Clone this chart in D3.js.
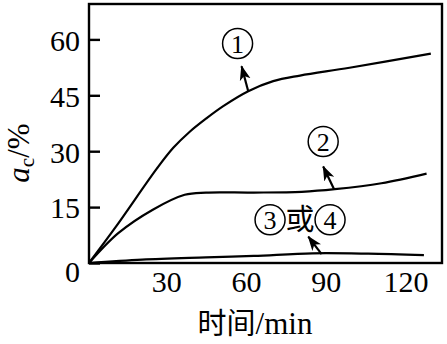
<!DOCTYPE html>
<html>
<head>
<meta charset="utf-8">
<script src="https://cdn.jsdelivr.net/npm/d3@7"></script>
<style>
  html, body { margin: 0; padding: 0; background: #fff; }
  svg { display: block; }
  .serif { font-family: "Liberation Serif", "DejaVu Serif", "Times New Roman", serif; }
  .cjk { font-family: "Noto Sans CJK SC", sans-serif; }
</style>
</head>
<body>
<svg id="chart" width="447" height="344"></svg>
<script>
// Conversion (%) vs time (min) for three conditions
const time1 = [0, 10, 25.5, 31.7, 38, 44.3, 50.5, 59.9, 69.3, 79.4, 98, 128.6];
const conv1 = [0, 9.6, 25.3, 30.9, 35.3, 38.9, 42.1, 46.1, 48.8, 50.3, 52.4, 56.2];

const time2 = [0, 11, 24, 36, 44, 62, 80, 92.5, 110, 127];
const conv2 = [0, 8, 14.3, 18.3, 18.9, 18.9, 19.1, 19.8, 21.4, 24.0];

const time3 = [0, 20, 44, 62, 84, 105, 126];
const conv3 = [0, 0.9, 1.5, 1.9, 2.6, 2.5, 2.1];

const xTicks = [30, 60, 90, 120];
const yTicks = [0, 15, 30, 45, 60];

// curve labels: text, label centre, arrow tail (on curve), arrow tip
const labelText = ["①", "②", "③或④"];
const labelAt = [[55.9, 58.9], [88.1, 32.6], [79.4, 11.6]];
const arrowFrom = [[59.9, 46.1], [92.2, 19.8], [87.5, 2.4]];
const arrowTo = [[57.4, 52.8], [88.1, 25.9], [82.5, 7.1]];

const svg = d3.select("#chart");
const plotL = 89, plotR = 442, plotT = 4, plotB = 263;

const x = d3.scaleLinear().domain([0, 132.8]).range([plotL, plotR]);
const y = d3.scaleLinear().domain([0, 69.5]).range([plotB, plotT]);

// curves
const line = d3.line()
  .x(d => x(d[0])).y(d => y(d[1]))
  .curve(d3.curveCatmullRom.alpha(0.5));
const series = [d3.zip(time1, conv1), d3.zip(time2, conv2), d3.zip(time3, conv3)];
svg.append("g").selectAll("path").data(series).join("path")
  .attr("d", line)
  .attr("fill", "none")
  .attr("stroke", "#000")
  .attr("stroke-width", 2.2)
  .attr("stroke-linejoin", "round");

// frame
svg.append("rect")
  .attr("x", plotL).attr("y", plotT)
  .attr("width", plotR - plotL).attr("height", plotB - plotT)
  .attr("fill", "none").attr("stroke", "#000").attr("stroke-width", 2.4);

// y axis: inward ticks, labels outside
const yAxis = d3.axisLeft(y).tickValues(yTicks).tickSize(-11).tickPadding(20);
const gy = svg.append("g").attr("transform", `translate(${plotL},0)`).call(yAxis);
gy.attr("font-family", null).attr("font-size", null);
gy.select(".domain").remove();
gy.selectAll(".tick line").attr("stroke", "#000").attr("stroke-width", 2.4);
gy.selectAll(".tick text")
  .attr("class", "serif")
  .attr("x", -9)
  .attr("dy", d => d === 0 ? "0.62em" : "0.36em")
  .attr("font-size", 30).attr("fill", "#000");

// x axis: labels only
const xAxis = d3.axisBottom(x).tickValues(xTicks).tickSize(0).tickPadding(8);
const gx = svg.append("g").attr("transform", `translate(0,${plotB})`).call(xAxis);
gx.attr("font-family", null).attr("font-size", null);
gx.select(".domain").remove();
gx.selectAll(".tick text")
  .attr("class", "serif")
  .attr("dx", "-0.08em")
  .attr("font-size", 30).attr("fill", "#000");

// axis titles
const xt = svg.append("text")
  .attr("x", 255).attr("y", 334)
  .attr("text-anchor", "middle")
  .attr("font-size", 31).attr("fill", "#000");
xt.append("tspan").attr("class", "cjk").attr("font-size", 29).text("时间");
xt.append("tspan").attr("class", "serif").text("/min");

const yt = svg.append("text")
  .attr("class", "serif")
  .attr("transform", "translate(29,153) rotate(-90)")
  .attr("text-anchor", "middle")
  .attr("font-size", 31).attr("fill", "#000");
yt.append("tspan").attr("font-style", "italic").text("a");
yt.append("tspan").attr("font-size", 21).attr("dy", 5).text("c");
yt.append("tspan").attr("dy", -5).text("/%");

// arrow head marker (notched)
const defs = svg.append("defs");
defs.append("marker")
  .attr("id", "head")
  .attr("viewBox", "0 0 15 12")
  .attr("refX", 14).attr("refY", 6)
  .attr("markerWidth", 15).attr("markerHeight", 12)
  .attr("markerUnits", "userSpaceOnUse")
  .attr("orient", "auto")
  .append("path")
  .attr("d", "M0,0.5 L15,6 L0,11.5 L4,6 Z")
  .attr("fill", "#000");

svg.append("g").selectAll("line").data(d3.range(arrowFrom.length)).join("line")
  .attr("x1", i => x(arrowFrom[i][0])).attr("y1", i => y(arrowFrom[i][1]))
  .attr("x2", i => x(arrowTo[i][0])).attr("y2", i => y(arrowTo[i][1]))
  .attr("stroke", "#000").attr("stroke-width", 2.2)
  .attr("marker-end", "url(#head)");

// curve labels: circled numbers drawn as a ring with a serif digit inside
const cell = 30;
labelText.forEach((txt, i) => {
  const chars = Array.from(txt);
  const cx0 = x(labelAt[i][0]) - (chars.length - 1) * cell / 2;
  const cy = y(labelAt[i][1]);
  const g = svg.append("g");
  chars.forEach((ch, k) => {
    const cx = cx0 + k * cell;
    const code = ch.codePointAt(0);
    if (code >= 0x2460 && code <= 0x2473) {
      g.append("circle")
        .attr("cx", cx).attr("cy", cy).attr("r", 15)
        .attr("fill", "none").attr("stroke", "#000").attr("stroke-width", 1.5);
      g.append("text")
        .attr("class", "serif")
        .attr("x", cx).attr("y", cy).attr("dy", "0.35em")
        .attr("text-anchor", "middle")
        .attr("font-size", 26).attr("fill", "#000")
        .text(String(code - 0x2460 + 1));
    } else {
      g.append("text")
        .attr("class", "cjk")
        .attr("x", cx).attr("y", cy).attr("dy", "0.36em")
        .attr("text-anchor", "middle")
        .attr("font-size", 29).attr("fill", "#000")
        .text(ch);
    }
  });
});
</script>
</body>
</html>
